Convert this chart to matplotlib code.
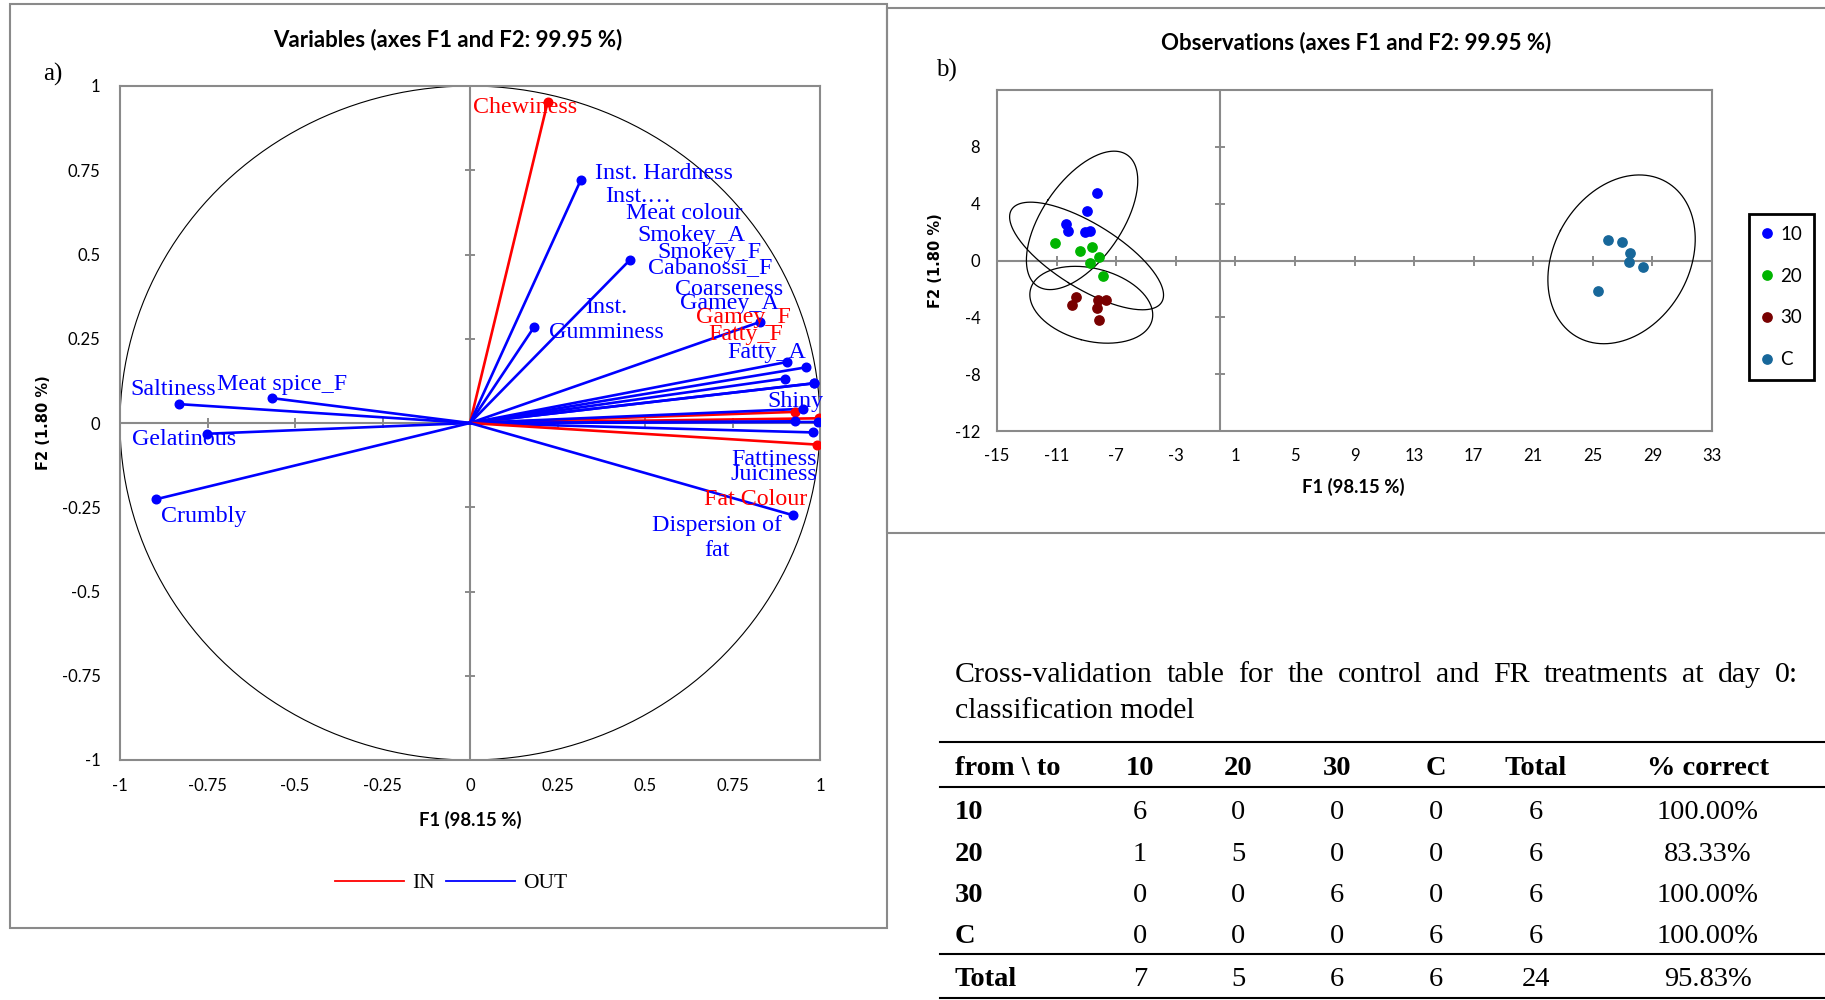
"""PCA correlation circle, observation map with confidence ellipses and a
cross-validation table, laid out on one sheet."""

import numpy as np
import matplotlib
matplotlib.use("Agg")
import matplotlib.pyplot as plt
from matplotlib.lines import Line2D
from matplotlib.patches import Rectangle

W, H, DPI = 1825, 1000, 100

# ---------------------------------------------------------------- data

# variable loadings on F1 / F2, IN = active variable (red), OUT = supplementary
VAR_NAMES = ["Chewiness", "Inst. Hardness", "Inst.…", "Inst. Gumminess",
             "Meat colour", "Smokey_A", "Smokey_F", "Cabanossi_F",
             "Coarseness", "Gamey_A", "Gamey_F", "Fatty_F", "Fatty_A",
             "Shiny", "Fattiness", "Juiciness", "Fat Colour",
             "Dispersion of fat", "Saltiness", "Meat spice_F", "Gelatinous",
             "Crumbly"]
VAR_F1 = [0.222, 0.317, 0.457, 0.184, 0.829, 0.905, 0.959, 0.900, 0.984,
          0.984, 0.929, 0.998, 0.929, 0.951, 0.994, 0.981, 0.990, 0.924,
          -0.831, -0.567, -0.752, -0.896]
VAR_F2 = [0.953, 0.722, 0.484, 0.286, 0.300, 0.181, 0.165, 0.132, 0.118,
          0.118, 0.033, 0.014, 0.005, 0.042, 0.003, -0.028, -0.064, -0.274,
          0.056, 0.074, -0.032, -0.226]
VAR_IN = ["Chewiness", "Gamey_F", "Fatty_F", "Fat Colour"]

# observation scores per treatment
GROUPS = ["10", "20", "30", "C"]
F1_10 = [-8.30, -8.93, -10.39, -10.21, -9.11, -8.79]
F2_10 = [4.74, 3.45, 2.54, 2.11, 1.99, 2.11]
F1_20 = [-11.08, -9.40, -8.62, -8.17, -8.75, -7.90]
F2_20 = [1.24, 0.70, 0.94, 0.28, -0.19, -1.06]
F1_30 = [-9.67, -9.96, -8.22, -7.70, -8.32, -8.15]
F2_30 = [-2.54, -3.10, -2.77, -2.75, -3.33, -4.20]
F1_C = [26.03, 26.95, 27.49, 27.40, 28.38, 25.32]
F2_C = [1.41, 1.27, 0.56, -0.12, -0.49, -2.14]

# cross-validation confusion matrix (rows = from, cols = to)
CV_CLASSES = ["10", "20", "30", "C"]
CV_COUNTS = [[6, 0, 0, 0],
             [1, 5, 0, 0],
             [0, 0, 6, 0],
             [0, 0, 0, 6]]

# ---------------------------------------------------------------- style

GREY = "#8a8a8a"
SERIF = "Liberation Serif"
SANS = ["Lato", "DejaVu Sans"]
GROUP_COLORS = {"10": "#0000ff", "20": "#00b400", "30": "#780000", "C": "#17679a"}

# label anchors (data units of the correlation circle)
LABEL_XY = {
    "Chewiness": (0.157, 0.935), "Inst. Hardness": (0.554, 0.740),
    "Inst.…": (0.481, 0.672), "Inst. Gumminess": (0.390, 0.307),
    "Meat colour": (0.612, 0.623), "Smokey_A": (0.633, 0.556),
    "Smokey_F": (0.683, 0.506), "Cabanossi_F": (0.686, 0.460),
    "Coarseness": (0.740, 0.397), "Gamey_A": (0.740, 0.356),
    "Gamey_F": (0.781, 0.313), "Fatty_F": (0.788, 0.262),
    "Fatty_A": (0.848, 0.210), "Shiny": (0.929, 0.064),
    "Fattiness": (0.869, -0.109), "Juiciness": (0.867, -0.153),
    "Fat Colour": (0.817, -0.228), "Dispersion of fat": (0.705, -0.342),
    "Saltiness": (-0.848, 0.099), "Meat spice_F": (-0.538, 0.114),
    "Gelatinous": (-0.816, -0.050), "Crumbly": (-0.762, -0.277),
}
LABEL_TEXT = {"Inst. Gumminess": "Inst.\nGumminess",
              "Dispersion of fat": "Dispersion of\nfat"}


def fx(px):
    return px / W


def fy(py):
    return 1 - py / H


def conf_ellipse(x, y, p=0.95, npts=240):
    """Prediction ellipse (Hotelling) around a group of 2-D scores."""
    pts = np.column_stack([x, y])
    n = len(pts)
    mu = pts.mean(axis=0)
    cov = np.cov(pts.T)
    m = n - 2
    f_crit = (m / 2) * ((1 - p) ** (-2 / m) - 1)        # F(p; 2, m) closed form
    k = np.sqrt(2 * (n - 1) * (n + 1) / (n * m) * f_crit)
    vals, vecs = np.linalg.eigh(cov)
    t = np.linspace(0, 2 * np.pi, npts)
    circ = np.vstack([np.cos(t), np.sin(t)])
    ell = vecs @ (np.sqrt(vals)[:, None] * circ) * k + mu[:, None]
    return ell[0], ell[1]


def cross_axes(ax, xt, yt):
    """Grey centre lines with small crossing tick marks, labels on the frame."""
    for s in ax.spines.values():
        s.set_color(GREY)
        s.set_linewidth(1.5)
    ax.axhline(0, color=GREY, lw=1.5, zorder=1)
    ax.axvline(0, color=GREY, lw=1.5, zorder=1)
    ax.plot(xt, np.zeros(len(xt)), ls="none", marker="|", ms=7, mew=1.4,
            color=GREY, zorder=1)
    ax.plot(np.zeros(len(yt)), yt, ls="none", marker="_", ms=7, mew=1.4,
            color=GREY, zorder=1)
    ax.tick_params(length=0)


def justified_line(fig, text, x0, x1, y, **kw):
    """Spread the words of one line evenly between pixel columns x0 and x1."""
    r = fig.canvas.get_renderer()
    words = text.split(" ")
    arts = [fig.text(0, fy(y), w, va="baseline", ha="left", **kw) for w in words]
    widths = [a.get_window_extent(r).width for a in arts]
    gap = (x1 - x0 - sum(widths)) / (len(words) - 1)
    x = x0
    for a, w in zip(arts, widths):
        a.set_x(fx(x))
        x += w + gap


fig = plt.figure(figsize=(W / DPI, H / DPI), dpi=DPI)

# panel frames
fig.add_artist(Rectangle((fx(10), fy(928)), fx(877), (928 - 4) / H,
                         transform=fig.transFigure, fill=False, ec=GREY, lw=1.5))
fig.add_artist(Rectangle((fx(887), fy(533)), fx(960), (533 - 8) / H,
                         transform=fig.transFigure, fill=False, ec=GREY, lw=1.5))

# ------------------------------------------------------ a) correlation circle

ax1 = fig.add_axes([fx(120), fy(760), fx(700), (760 - 86) / H])
ax1.set_xlim(-1, 1)
ax1.set_ylim(-1, 1)
ticks1 = np.arange(-1, 1.001, 0.25)
ax1.set_xticks(ticks1, [f"{v:g}" for v in ticks1])
ax1.set_yticks(ticks1, [f"{v:g}" for v in ticks1])
cross_axes(ax1, ticks1[ticks1 != 0], ticks1[ticks1 != 0])
ax1.tick_params(axis="x", pad=13)
ax1.tick_params(axis="y", pad=14)
for lab in ax1.get_xticklabels() + ax1.get_yticklabels():
    lab.set_fontfamily(SANS)
    lab.set_fontsize(12)

th = np.linspace(0, 2 * np.pi, 400)
ax1.plot(np.cos(th), np.sin(th), color="black", lw=0.8, zorder=2)

for name, x, y in zip(VAR_NAMES, VAR_F1, VAR_F2):
    col = "#ff0000" if name in VAR_IN else "#0000ff"
    ax1.plot([0, x], [0, y], color=col, lw=1.9, zorder=3)
    ax1.plot(x, y, "o", color=col, ms=6.2, zorder=4)
    lx, ly = LABEL_XY[name]
    ax1.text(lx, ly, LABEL_TEXT.get(name, name), color=col, ha="center",
             va="center", family=SERIF, fontsize=17.3, linespacing=1.25,
             zorder=5)

fig.text(fx(448), fy(40), "Variables (axes F1 and F2: 99.95 %)", family=SANS,
         weight="bold", fontsize=16, ha="center", va="center")
fig.text(fx(53), fy(74), "a)", family=SERIF, fontsize=18, ha="center",
         va="center")
fig.text(fx(470), fy(820), "F1 (98.15 %)", family=SANS, weight="bold",
         fontsize=13.3, ha="center", va="center")
fig.text(fx(43), fy(423), "F2 (1.80 %)", family="DejaVu Sans", weight="bold",
         fontsize=10.5, rotation=90, ha="center", va="center")

ax1.legend(handles=[Line2D([], [], color="#ff0000", lw=1.3),
                    Line2D([], [], color="#0000ff", lw=1.3)],
           labels=["IN", "OUT"], ncol=2, loc="center",
           bbox_to_anchor=(fx(451), fy(883)), bbox_transform=fig.transFigure,
           frameon=False, prop={"family": SERIF, "size": 15.5},
           handlelength=3.2, handletextpad=0.4, columnspacing=0.5)

# ------------------------------------------------------ b) observations

ax2 = fig.add_axes([fx(997), fy(431), fx(715), (431 - 90) / H])
ax2.set_xlim(-15, 33)
ax2.set_ylim(-12, 12)
xt2 = np.arange(-15, 33.1, 4)
yt2 = np.arange(-12, 12.1, 4)
ax2.set_xticks(xt2, [f"{v:g}" for v in xt2])
ax2.set_yticks(yt2, [f"{v:g}" if v < 12 else "" for v in yt2])
cross_axes(ax2, xt2[(xt2 > -15) & (xt2 < 33)], yt2[(yt2 > -12) & (yt2 < 12)])
ax2.tick_params(axis="both", pad=12)
for lab in ax2.get_xticklabels() + ax2.get_yticklabels():
    lab.set_fontfamily(SANS)
    lab.set_fontsize(12)

scores = {"10": (F1_10, F2_10), "20": (F1_20, F2_20),
          "30": (F1_30, F2_30), "C": (F1_C, F2_C)}
handles = []
for g in GROUPS:
    xs, ys = scores[g]
    ex, ey = conf_ellipse(xs, ys)
    ax2.plot(ex, ey, color="black", lw=0.9, zorder=2)
    ax2.plot(xs, ys, "o", color=GROUP_COLORS[g], ms=6.7, zorder=4)
    handles.append(Line2D([], [], ls="none", marker="o", ms=6.7,
                          color=GROUP_COLORS[g]))

leg = ax2.legend(handles, GROUPS, loc="center",
                 bbox_to_anchor=(fx(1781.5), fy(297)),
                 bbox_transform=fig.transFigure, prop={"family": SANS, "size": 13.5},
                 fancybox=False, edgecolor="black", framealpha=1,
                 borderpad=0.65, labelspacing=1.32, handlelength=0.6,
                 handletextpad=0.4)
leg.get_frame().set_linewidth(2)

fig.text(fx(1356), fy(43), "Observations (axes F1 and F2: 99.95 %)",
         family=SANS, weight="bold", fontsize=16, ha="center", va="center")
fig.text(fx(946), fy(70), "b)", family=SERIF, fontsize=18, ha="center",
         va="center")
fig.text(fx(1353), fy(487), "F1 (98.15 %)", family=SANS, weight="bold",
         fontsize=13.3, ha="center", va="center")
fig.text(fx(935), fy(261), "F2 (1.80 %)", family="DejaVu Sans", weight="bold",
         fontsize=10.5, rotation=90, ha="center", va="center")

# ------------------------------------------------------ cross-validation table

TFS = 20.5
justified_line(fig,
               "Cross-validation table for the control and FR treatments at day 0:",
               955, 1798, 681.7, family=SERIF, fontsize=21.5)
fig.text(fx(955), fy(718.3), "classification model", family=SERIF,
         fontsize=21.5, ha="left", va="baseline")

col_x = [1140, 1238, 1337, 1436, 1536, 1708]
header = ["from \\ to"] + CV_CLASSES + ["Total", "% correct"]
fig.text(fx(955), fy(775), header[0], family=SERIF, weight="bold",
         fontsize=TFS, ha="left", va="baseline")
for cx, h in zip(col_x, header[1:]):
    fig.text(fx(cx), fy(775), h, family=SERIF, weight="bold", fontsize=TFS,
             ha="center", va="baseline")

counts = np.array(CV_COUNTS)
row_base = [819.3, 860.7, 902.5, 943.3]
for yb, cls, row in zip(row_base, CV_CLASSES, counts):
    fig.text(fx(955), fy(yb), cls, family=SERIF, weight="bold", fontsize=TFS,
             ha="left", va="baseline")
    total = row.sum()
    cells = [str(v) for v in row] + [str(total),
                                     f"{100 * row[CV_CLASSES.index(cls)] / total:.2f}%"]
    for cx, c in zip(col_x, cells):
        fig.text(fx(cx), fy(yb), c, family=SERIF, fontsize=TFS, ha="center",
                 va="baseline")

col_tot = counts.sum(axis=0)
grand = counts.sum()
tot_cells = [str(v) for v in col_tot] + [str(grand),
                                         f"{100 * np.trace(counts) / grand:.2f}%"]
fig.text(fx(955), fy(986.5), "Total", family=SERIF, weight="bold",
         fontsize=TFS, ha="left", va="baseline")
for cx, c in zip(col_x, tot_cells):
    fig.text(fx(cx), fy(986.5), c, family=SERIF, fontsize=TFS, ha="center",
             va="baseline")

for ry in [741.7, 786.7, 954, 998.3]:
    fig.add_artist(Line2D([fx(940), 1.0], [fy(ry), fy(ry)],
                          transform=fig.transFigure, color="black", lw=1.5))

fig.savefig("out.png", dpi=DPI)
